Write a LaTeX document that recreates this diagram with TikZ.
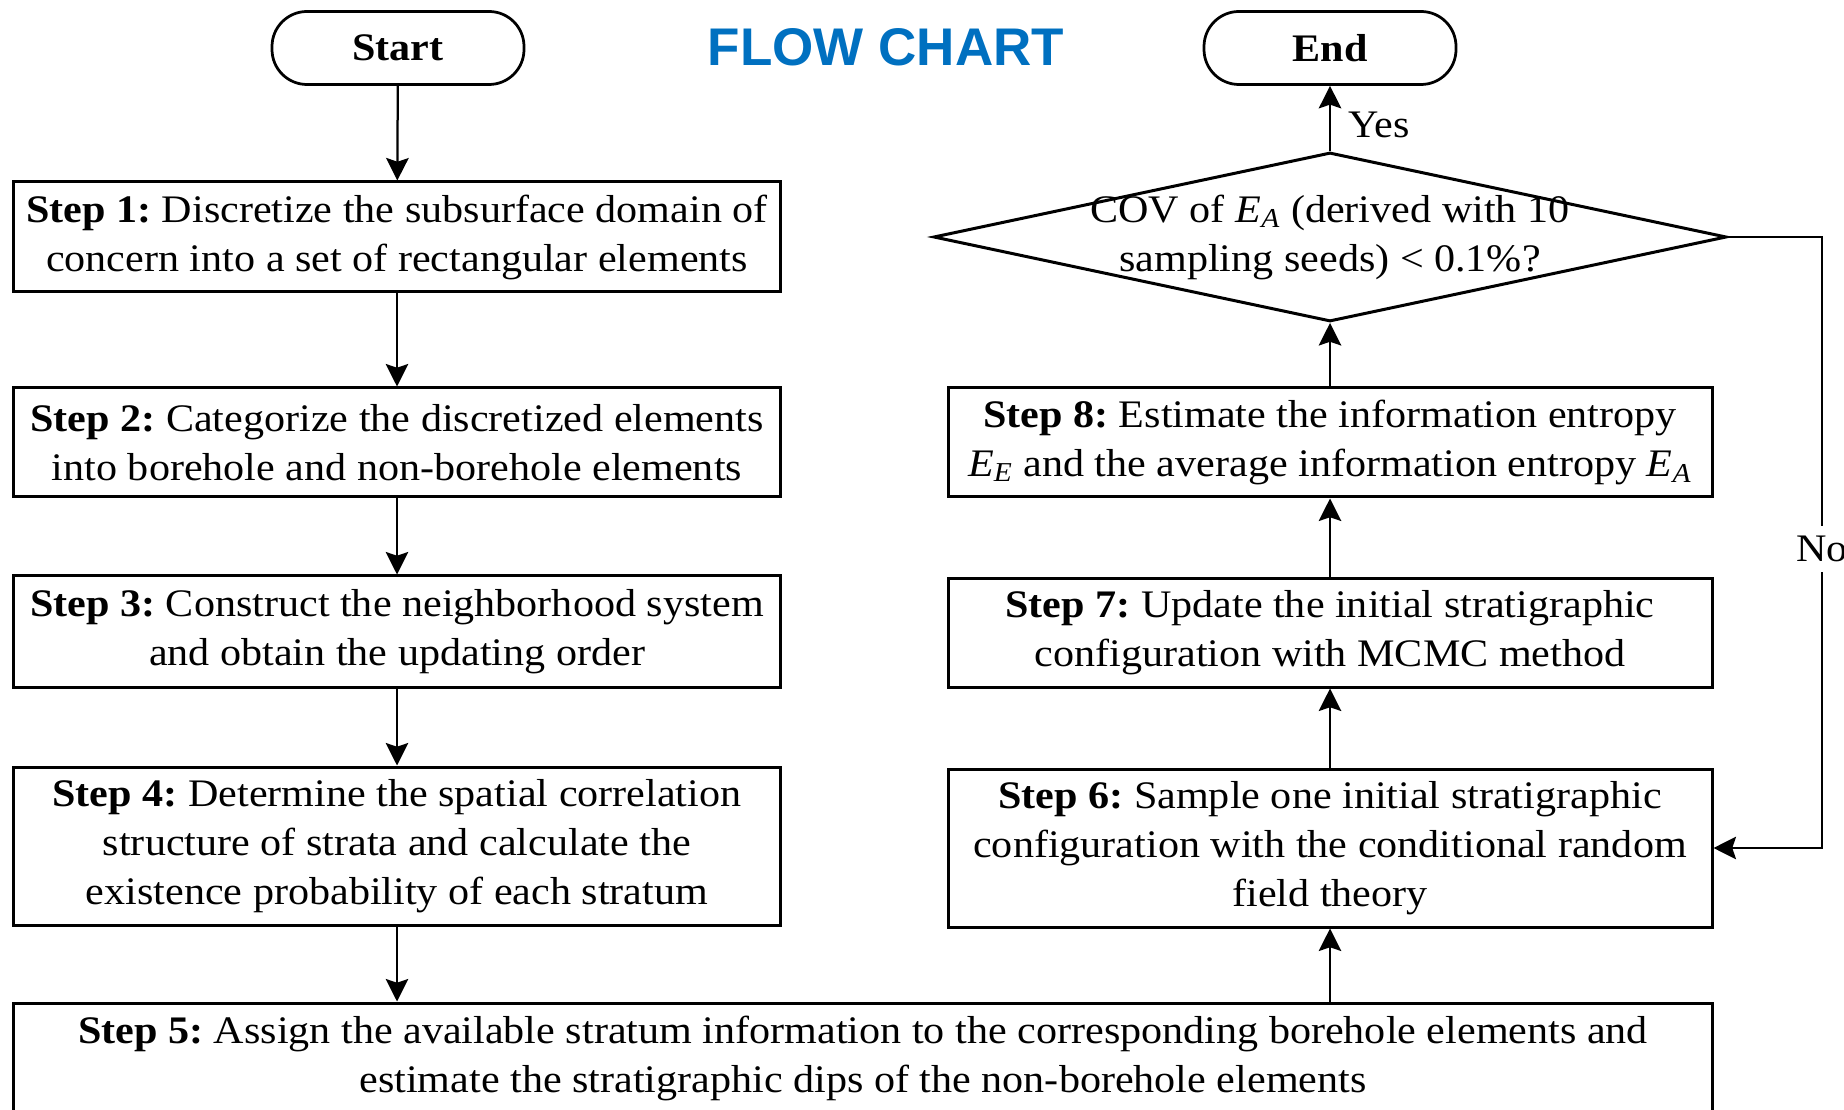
\documentclass[tikz,border=0pt]{standalone}
\usepackage{fontspec}
\setmainfont{Liberation Serif}[FakeStretch=1.08]
\newfontfamily\titlefont{Liberation Sans}
\usetikzlibrary{shapes.geometric,arrows.meta}
\definecolor{titleblue}{RGB}{0,112,192}
\frenchspacing
\tikzset{
  boxstyle/.style={draw, line width=1.2pt, rectangle, align=center, inner sep=0pt,
    font=\fontsize{15.6}{19.6}\selectfont},
  termstyle/.style={draw, line width=1.1pt, rectangle, rounded corners=14pt,
    minimum width=100.8pt, minimum height=29.2pt, inner sep=0pt,
    font=\fontsize{15.6}{19.6}\selectfont\bfseries},
  flow/.style={line width=0.9pt, -{Stealth[length=9pt,width=9pt,inset=1.5pt]}},
  lbl/.style={font=\fontsize{15.6}{19.6}\selectfont, inner sep=1pt}
}
\begin{document}
\begin{tikzpicture}[x=0.4pt,y=-0.4pt]
\useasboundingbox (0,0) rectangle (1844,1110);
\node[termstyle] (start) at (398,48) {Start};
\node[termstyle] (end) at (1330,48) {End};
\node[font=\titlefont\fontsize{21.2}{24}\selectfont\bfseries, text=titleblue] (title) at (886,47) {FLOW CHART};

\node[boxstyle, minimum width=306.4pt, minimum height=44pt] (s1) at (397,237)
  {\textbf{Step 1:} Discretize the subsurface domain of\\concern into a set of rectangular elements};
\node[boxstyle, minimum width=306.4pt, minimum height=43.6pt] (s2) at (397,442.5)
  {\textbf{Step 2:} Categorize the discretized elements\\into borehole and non-borehole elements};
\node[boxstyle, minimum width=306.4pt, minimum height=44.4pt] (s3) at (397,631.5)
  {\textbf{Step 3:} Construct the neighborhood system\\and obtain the updating order};
\node[boxstyle, minimum width=306.4pt, minimum height=63.2pt] (s4) at (397,846)
  {\textbf{Step 4:} Determine the spatial correlation\\structure of strata and calculate the\\existence probability of each stratum};
\node[boxstyle, minimum width=679.2pt, minimum height=44pt] (s5) at (863,1058)
  {\textbf{Step 5:} Assign the available stratum information to the corresponding borehole elements and\\estimate the stratigraphic dips of the non-borehole elements};
\node[boxstyle, minimum width=305.6pt, minimum height=63.2pt] (s6) at (1330,848)
  {\textbf{Step 6:} Sample one initial stratigraphic\\configuration with the conditional random\\field theory};
\node[boxstyle, minimum width=305.6pt, minimum height=43.2pt] (s7) at (1330,633)
  {\textbf{Step 7:} Update the initial stratigraphic\\configuration with MCMC method};
\node[boxstyle, minimum width=305.6pt, minimum height=43.6pt] (s8) at (1330,442.5)
  {\textbf{Step 8:} Estimate the information entropy\\\textit{E}\textsubscript{\textit{E}} and the average information entropy \textit{E}\textsubscript{\textit{A}}};
\node[draw, line width=1.2pt, diamond, minimum width=317.2pt, minimum height=67.6pt, inner sep=0pt] (dec) at (1330,237) {};
\node[lbl, align=center, font=\fontsize{15.6}{19.6}\selectfont] (dectext) at (dec.center)
  {COV of \textit{E}\textsubscript{\textit{A}} (derived with 10\\sampling seeds) < 0.1\%?};

\coordinate (noTop) at (1822,237);
\coordinate (noBot) at (1822,848);

\draw[flow] (start) -- (s1);
\draw[flow] (s1) -- (s2);
\draw[flow] (s2) -- (s3);
\draw[flow] (s3) -- (s4);
\draw[flow] (s4.south) -- (s4.south |- s5.north);
\draw[flow] (s6.south |- s5.north) -- (s6.south);
\draw[flow] (s6) -- (s7);
\draw[flow] (s7) -- (s8);
\draw[flow] (s8) -- (dec.south);
\draw[flow] (dec.north) -- node[lbl, right, pos=0.4, xshift=6pt] (yes) {Yes} (end.south);
\draw[flow] (dec.east) -- (noTop) -- node[lbl, fill=white, inner ysep=4pt, pos=0.51] (no) {No} (noBot) -- (s6.east);
\end{tikzpicture}
\end{document}
